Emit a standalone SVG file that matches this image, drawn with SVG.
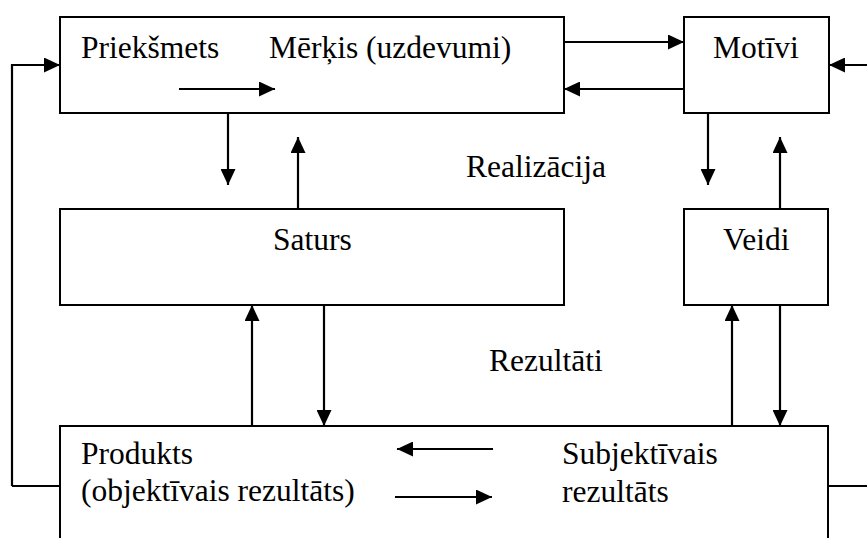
<svg xmlns="http://www.w3.org/2000/svg" width="867" height="538" viewBox="0 0 867 538">
<style>
.box{fill:#fff;stroke:#000;stroke-width:2}
.ln{fill:none;stroke:#000;stroke-width:2.2}
.ar{marker-end:url(#ah)}
.t{font-family:'Liberation Serif','Times New Roman',serif;font-size:31.5px;fill:#000}
</style>
<defs>
<marker id="ah" markerWidth="16" markerHeight="15" refX="16" refY="7.5" orient="auto" markerUnits="userSpaceOnUse">
<path d="M0,0 L16,7.5 L0,15 Z" fill="#000"/>
</marker>
</defs>
<rect width="867" height="538" fill="#fff"/>
<g id="goal">
<rect class="box" x="60" y="17" width="504" height="96"/>
<text class="t" x="81" y="58">Priekšmets</text>
<text class="t" x="269" y="58">Mērķis (uzdevumi)</text>
</g>
<g id="motivi">
<rect class="box" x="684" y="17" width="145" height="96"/>
<text class="t" x="713" y="58">Motīvi</text>
</g>
<g id="saturs">
<rect class="box" x="60" y="209" width="504" height="96"/>
<text class="t" x="273" y="250">Saturs</text>
</g>
<g id="veidi">
<rect class="box" x="684" y="209" width="144" height="96"/>
<text class="t" x="723" y="250">Veidi</text>
</g>
<g id="rezultats">
<rect class="box" x="60" y="426" width="768" height="130"/>
<text class="t" x="81" y="464">Produkts</text>
<text class="t" x="81" y="501">(objektīvais rezultāts)</text>
<text class="t" x="562" y="464">Subjektīvais</text>
<text class="t" x="562" y="502">rezultāts</text>
</g>
<g id="labels">
<text class="t" x="466" y="177">Realizācija</text>
<text class="t" x="489" y="371">Rezultāti</text>
</g>
<g id="connectors">
<path class="ln ar" d="M179,89 H275"/>
<path class="ln ar" d="M564,42 H684"/>
<path class="ln ar" d="M684,89 H564"/>
<path class="ln ar" d="M867,65 H829"/>
<path class="ln ar" d="M12,486 H60 M12,486 V65 H60"/>
<path class="ln" d="M828,486 H867"/>
<path class="ln ar" d="M228,113 V185"/>
<path class="ln ar" d="M298,209 V137"/>
<path class="ln ar" d="M708,113 V185"/>
<path class="ln ar" d="M780,209 V137"/>
<path class="ln ar" d="M252,426 V305"/>
<path class="ln ar" d="M324,305 V426"/>
<path class="ln ar" d="M732,426 V305"/>
<path class="ln ar" d="M780,305 V426"/>
<path class="ln ar" d="M493,449 H397"/>
<path class="ln ar" d="M395,497 H492"/>
</g>
</svg>
